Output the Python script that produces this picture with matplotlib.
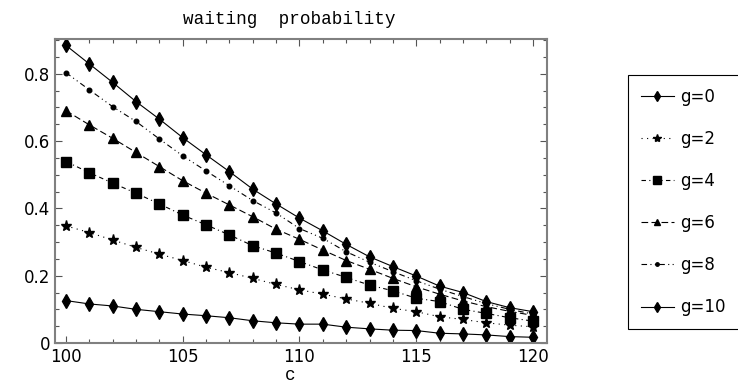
import matplotlib
matplotlib.use("Agg")
import matplotlib.pyplot as plt
from matplotlib.ticker import MultipleLocator

c = list(range(100, 121))
g0 = [0.884, 0.829, 0.774, 0.717, 0.665, 0.610, 0.559, 0.509, 0.457, 0.413, 0.371,
      0.333, 0.293, 0.256, 0.227, 0.199, 0.169, 0.150, 0.123, 0.105, 0.093]
g2 = [0.348, 0.328, 0.306, 0.284, 0.264, 0.245, 0.225, 0.209, 0.192, 0.174, 0.158,
      0.145, 0.131, 0.118, 0.103, 0.093, 0.078, 0.070, 0.060, 0.053, 0.048]
g4 = [0.539, 0.506, 0.475, 0.445, 0.413, 0.380, 0.351, 0.321, 0.289, 0.267, 0.242,
      0.217, 0.195, 0.172, 0.155, 0.133, 0.123, 0.100, 0.088, 0.075, 0.065]
g6 = [0.690, 0.648, 0.608, 0.566, 0.524, 0.482, 0.445, 0.410, 0.375, 0.338, 0.308,
      0.276, 0.245, 0.219, 0.192, 0.167, 0.145, 0.125, 0.108, 0.094, 0.082]
g8 = [0.803, 0.752, 0.702, 0.658, 0.606, 0.556, 0.511, 0.467, 0.423, 0.386, 0.340,
      0.311, 0.271, 0.240, 0.212, 0.185, 0.160, 0.138, 0.117, 0.100, 0.086]
g10 = [0.126, 0.116, 0.110, 0.100, 0.093, 0.086, 0.081, 0.075, 0.066, 0.060, 0.056,
       0.056, 0.047, 0.042, 0.038, 0.037, 0.029, 0.027, 0.024, 0.019, 0.017]
labels = ["g=0", "g=2", "g=4", "g=6", "g=8", "g=10"]
series = [g0, g2, g4, g6, g8, g10]

styles = [
    dict(ls="-", marker="d", ms=7),
    dict(ls=(0, (1, 4)), marker="*", ms=8),
    dict(ls=(0, (4, 3, 1, 3)), marker="s", ms=7.5),
    dict(ls=(0, (6, 3)), marker="^", ms=6.5),
    dict(ls=(0, (5, 3, 1, 3, 1, 3)), marker="o", ms=3.3),
    dict(ls="-", marker="d", ms=7),
]

fig = plt.figure(figsize=(7.38, 3.89), dpi=100)
ax = fig.add_axes([55/738, 1-343/389, (547-55)/738, (343-39)/389])

for y, lab, st in zip(series, labels, styles):
    ax.plot(c, y, color="black", lw=0.8, label=lab, mec="black", mfc="black", **st)

ax.set_xlim(99.53, 120.6)
ax.set_ylim(0, 0.903)
ax.xaxis.set_major_locator(MultipleLocator(5))
ax.xaxis.set_minor_locator(MultipleLocator(1))
ax.yaxis.set_minor_locator(MultipleLocator(0.05))
ax.set_yticks([0, 0.2, 0.4, 0.6, 0.8])
ax.set_yticklabels(["0", "0.2", "0.4", "0.6", "0.8"])
ax.tick_params(which="both", direction="in", top=True, right=True, color="#555555",
               labelsize=12, labelcolor="black")
ax.tick_params(which="major", length=5, width=0.8)
ax.tick_params(which="minor", length=3, width=0.8)
for s in ax.spines.values():
    s.set_color("#808080")
    s.set_linewidth(1.5)

fig.text(289/738, 1-19/389, "waiting  probability", family="Liberation Mono",
         fontsize=12.7, ha="center", va="center")
fig.text(290/738, 1-376/389, "c", family="Liberation Mono", fontsize=12.7,
         ha="center", va="center")

leg = ax.legend(loc="upper left", bbox_to_anchor=(628/738, 1-75/389),
                bbox_transform=fig.transFigure, borderaxespad=0, fontsize=12,
                handlelength=2.0, handletextpad=0.4, labelspacing=1.45,
                fancybox=False, framealpha=1, edgecolor="black", borderpad=0.75,
                markerscale=0.75)
leg.get_frame().set_linewidth(0.8)

fig.savefig("out.png", dpi=100)
